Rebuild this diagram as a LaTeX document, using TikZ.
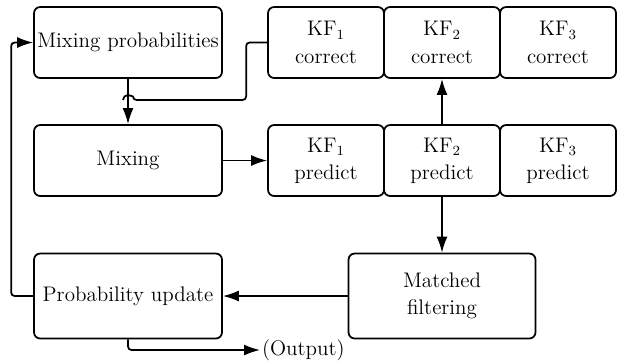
\documentclass[tikz,border=0pt]{standalone}
\usepackage{amsmath}
\usetikzlibrary{arrows.meta}

\begin{document}
\begin{tikzpicture}[x=0.02cm,y=-0.02cm,
    every node/.style={font=\fontsize{12}{15.5}\selectfont},
    box/.style={draw,line width=1pt,rounded corners=3.5pt,align=center,inner sep=0pt},
    link/.style={line width=1pt,rounded corners=2pt,-{Latex[length=3.2mm,width=2.2mm]}}]
\useasboundingbox (0,0) rectangle (617,360);

\begin{scope}[every node/.append style={box}]
    \node[minimum width=3.76cm,minimum height=1.42cm] (mp) at (128,42.5) {Mixing probabilities};
    \node[minimum width=3.76cm,minimum height=1.42cm] (mx) at (128,160.5) {Mixing};
    \node[minimum width=3.76cm,minimum height=1.7cm] (pu) at (128,296) {Probability update};
    \node[minimum width=3.74cm,minimum height=1.7cm] (mf) at (442,296) {Matched\\filtering};
    \node[minimum width=2.32cm,minimum height=1.42cm] (c1) at (326,42.5) {KF$_1$\\correct};
    \node[minimum width=2.32cm,minimum height=1.42cm] (c2) at (442,42.5) {KF$_2$\\correct};
    \node[minimum width=2.32cm,minimum height=1.42cm] (c3) at (558,42.5) {KF$_3$\\correct};
    \node[minimum width=2.32cm,minimum height=1.42cm] (p1) at (326,160.5) {KF$_1$\\predict};
    \node[minimum width=2.32cm,minimum height=1.42cm] (p2) at (442,160.5) {KF$_2$\\predict};
    \node[minimum width=2.32cm,minimum height=1.42cm] (p3) at (558,160.5) {KF$_3$\\predict};
\end{scope}

\node[anchor=west,inner sep=1pt] (out) at (260,350) {(Output)};
\coordinate (hop) at (133,100);

\draw[link] (mp) -- (mx);
\draw[link] (mx) -- (p1);
\draw[link] (p2) -- (c2);
\draw[link] (p2) -- (mf);
\draw[link] (mf) -- (pu);
\draw[link] (pu.west) -- ++(-22,0) |- (mp.west);
\draw[link] (pu.south) |- (out.west);
\draw[line width=1pt,rounded corners=2pt] (c1.west) -- ++(-21,0) |- (hop)
    arc[start angle=0,end angle=180,radius=1mm];
\end{tikzpicture}
\end{document}
